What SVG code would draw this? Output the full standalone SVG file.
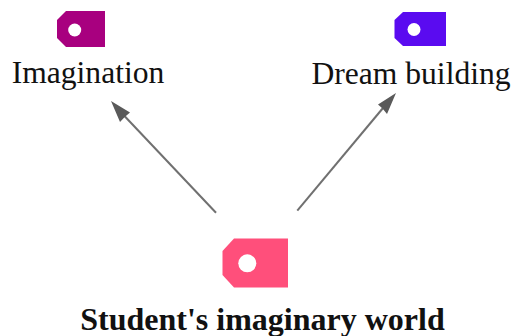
<svg xmlns="http://www.w3.org/2000/svg" width="512" height="336" viewBox="0 0 512 336">
<style>
text{font-family:"Liberation Serif","Times New Roman",serif;font-size:31.6px;fill:#111;text-anchor:middle}
.b{font-weight:bold;font-size:32px}
.hole{fill:#fff}
.c{fill:none;stroke:#707070;stroke-width:2}
.h{fill:#5a5a5a}
</style>
<rect width="512" height="336" fill="#fff"/>
<g id="connectors">
<line class="c" x1="216" y1="212.7" x2="124" y2="115.5"/>
<polygon class="h" points="111,101 130,112.5 125,116.7 120,122"/>
<line class="c" x1="297.3" y1="210.7" x2="383" y2="108"/>
<polygon class="h" points="396,93 378,104.5 382.5,108.5 387,114"/>
</g>
<g id="imagination">
<path d="M66 11H105V47H66L57 38V20Z" fill="#a8007f"/>
<circle class="hole" cx="74.7" cy="30" r="6.5"/>
<text x="88" y="83">Imagination</text>
</g>
<g id="dream-building">
<path d="M403 12H446V46H403L394.5 38V20Z" fill="#5a0bf0"/>
<circle class="hole" cx="414" cy="29.5" r="6.5"/>
<text x="411" y="84">Dream building</text>
</g>
<g id="students-imaginary-world">
<path d="M234 238.5H288V287.5H234L222.5 275V251Z" fill="#ff4f7b"/>
<circle class="hole" cx="247.3" cy="263.3" r="9"/>
<text class="b" x="262.5" y="330">Student's imaginary world</text>
</g>
</svg>
